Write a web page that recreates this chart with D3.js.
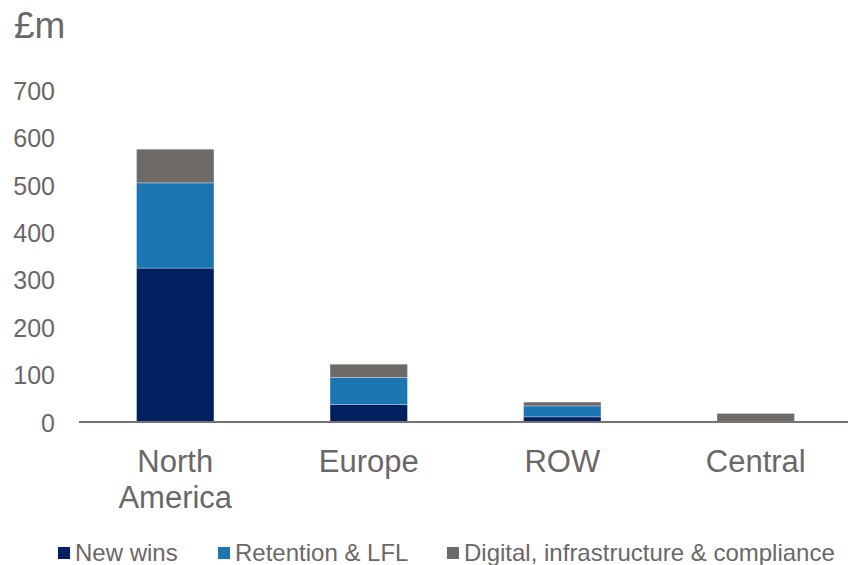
<!DOCTYPE html>
<html>
<head>
<meta charset="utf-8">
<script src="https://cdn.jsdelivr.net/npm/d3@7"></script>
<style>
  html, body { margin: 0; padding: 0; background: #fff; }
  svg { display: block; font-family: "Liberation Sans", Arial, sans-serif; }
</style>
</head>
<body>
<svg id="chart" width="848" height="565"></svg>
<script>
// Regions and the three components of the £m total per region
const regions = ["North America", "Europe", "ROW", "Central"];
const newWins = [325, 37, 11, 0];
const retention = [180, 57, 23, 0];
const digital = [71, 28, 8, 18];
const seriesNames = ["New wins", "Retention & LFL", "Digital, infrastructure & compliance"];
const seriesColors = ["#002060", "#1a75b0", "#6e6a67"];
const yTicks = [0, 100, 200, 300, 400, 500, 600, 700];
const unitLabel = "£m";

const textColor = "#6b6766";
const svg = d3.select("#chart");

const rows = regions.map((r, i) => ({
  region: r,
  "New wins": newWins[i],
  "Retention & LFL": retention[i],
  "Digital, infrastructure & compliance": digital[i]
}));
const stacked = d3.stack().keys(seriesNames)(rows);

const x = d3.scaleBand().domain(regions).range([78.5, 852.5]).paddingInner(0.6).paddingOuter(0.3);
const y = d3.scaleLinear().domain([0, 700]).range([422, 90.5]);

// Unit label
svg.append("text")
  .attr("x", 14).attr("y", 38)
  .attr("font-size", 37).attr("fill", textColor)
  .text(unitLabel);

// Y axis tick labels (no axis line)
const yAxis = d3.axisLeft(y).tickValues(yTicks).tickSize(0).tickPadding(0);
const yg = svg.append("g").attr("transform", "translate(55,0)").call(yAxis);
yg.select(".domain").remove();
yg.selectAll("text")
  .attr("font-size", 25).attr("fill", textColor)
  .attr("font-family", "'Liberation Sans', Arial, sans-serif")
  .attr("dy", "0.36em");

// Stacked bars
svg.append("g").selectAll("g")
  .data(stacked)
  .join("g")
  .attr("fill", (d, i) => seriesColors[i])
  .selectAll("rect")
  .data(d => d.filter(s => s[1] - s[0] > 0))
  .join("rect")
  .attr("x", d => x(d.data.region))
  .attr("width", x.bandwidth())
  .attr("y", d => y(d[1]))
  .attr("height", d => y(d[0]) - y(d[1]))
  .attr("stroke", "rgba(255,255,255,0.3)")
  .attr("stroke-width", 1);

// Baseline
svg.append("line")
  .attr("x1", 79).attr("x2", 848)
  .attr("y1", y(0)).attr("y2", y(0))
  .attr("stroke", "#767270").attr("stroke-width", 2);

// Category labels (wrapped onto two lines where needed)
const xAxis = d3.axisBottom(x).tickSize(0).tickPadding(0);
const xg = svg.append("g").attr("transform", `translate(0,${y(0)})`).call(xAxis);
xg.select(".domain").remove();
xg.selectAll("text").each(function(d) {
  const t = d3.select(this);
  t.text(null)
    .attr("y", 0).attr("dy", null)
    .attr("font-size", 31).attr("fill", textColor)
    .attr("font-family", "'Liberation Sans', Arial, sans-serif");
  const words = d.split(" ");
  words.forEach((w, i) => {
    t.append("tspan").attr("x", 0).attr("y", 50 + i * 36).text(w);
  });
});

// Legend
const legendX = [58, 218, 447];
const legend = svg.append("g").attr("font-size", 24).attr("fill", textColor);
seriesNames.forEach((name, i) => {
  legend.append("rect")
    .attr("x", legendX[i]).attr("y", 547)
    .attr("width", 12).attr("height", 12)
    .attr("fill", seriesColors[i]);
  legend.append("text")
    .attr("x", legendX[i] + 17).attr("y", 561)
    .text(name);
});
</script>
</body>
</html>
